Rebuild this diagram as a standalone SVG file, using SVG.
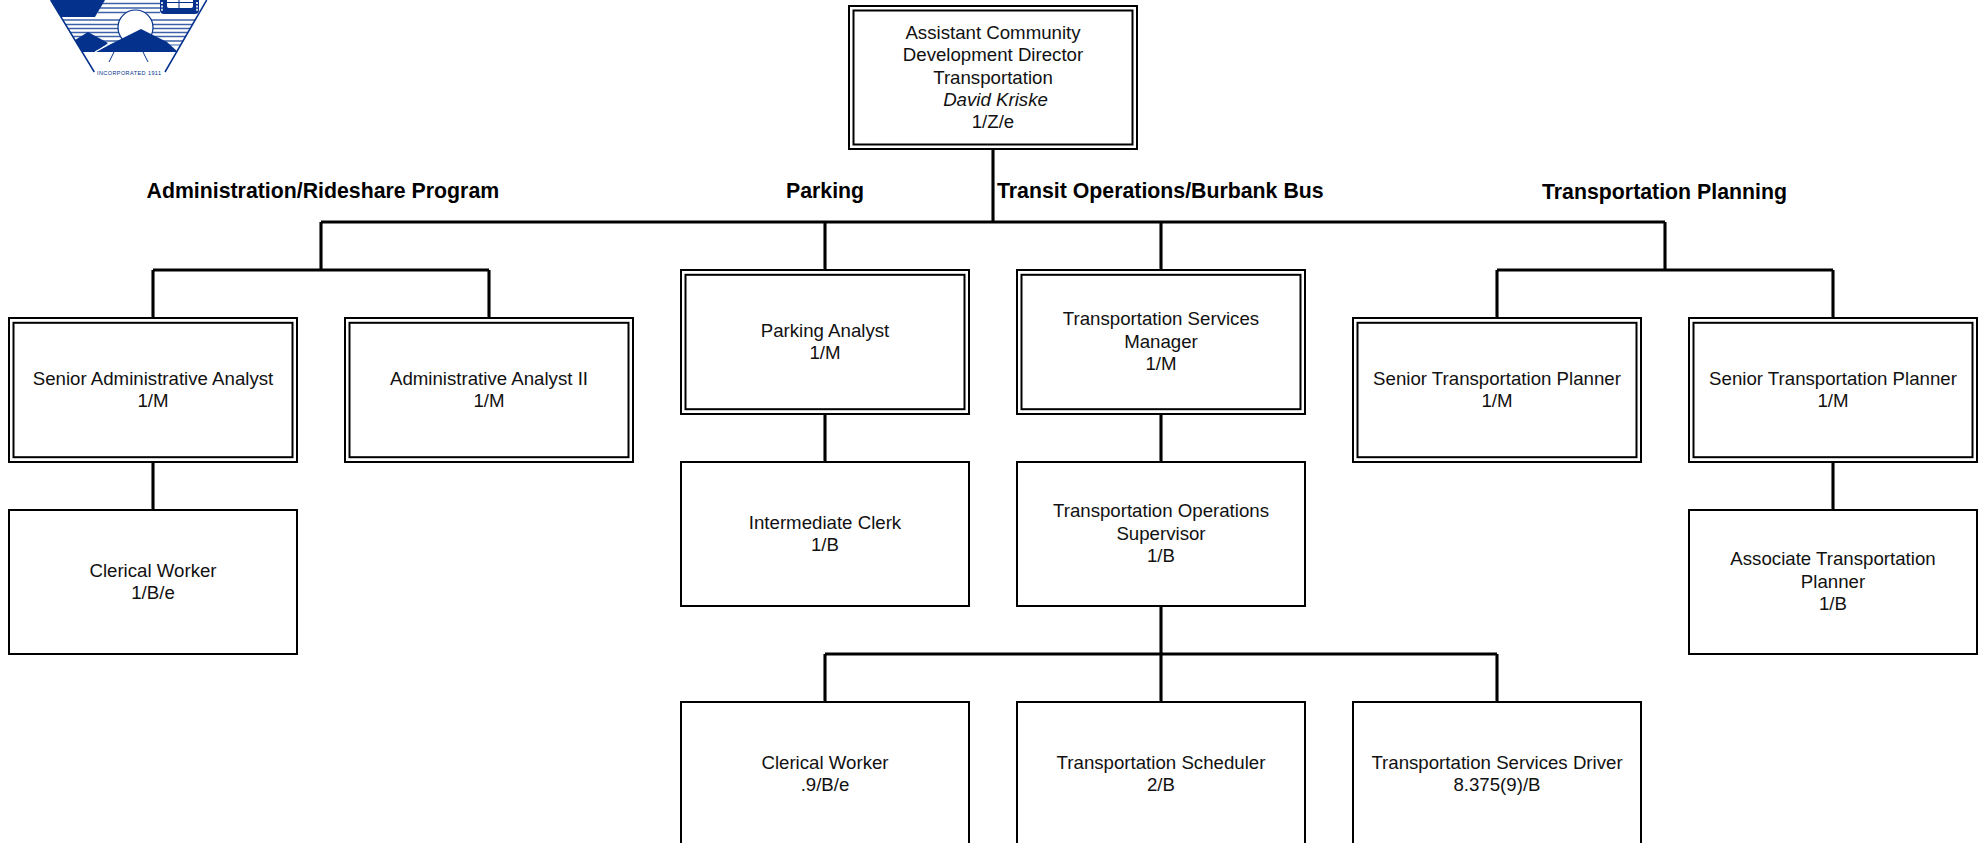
<svg xmlns="http://www.w3.org/2000/svg" width="1986" height="843" viewBox="0 0 1986 843">
<style>
text{font-family:"Liberation Sans",Arial,sans-serif;font-size:18.67px;fill:#111;text-anchor:middle}
.h{font-weight:bold;font-size:21.3px;fill:#000;text-anchor:start}
.o{fill:#fff;stroke:#000;stroke-width:2}
.i{fill:none;stroke:#000;stroke-width:2}
.c{fill:none;stroke:#000;stroke-width:3.1}
.b{fill:#03318c}
.s{stroke:#3d62a8;stroke-width:1.7;fill:none}
.e{stroke:#03318c;stroke-width:1.5;fill:none}
</style>
<defs><clipPath id="shield"><path d="M50.700 0H206.700L165 72H94.300Z"/></clipPath></defs>
<rect width="1986" height="843" fill="#fff"/>
<g id="logo">
<g clip-path="url(#shield)">
<path class="s" d="M100 3.500H160M100 8H160M98 12.500H160M60 20H210M60 24.500H210M60 28.500H210M60 32.500H210M60 36.500H210M60 41H210"/>
<path d="M50 0H105L95 17H60Z" class="b"/>
<path d="M72 45H180" stroke="#9db2d6" stroke-width="2"/>
</g>
<rect x="160" y="-8" width="39" height="22" rx="4" class="b"/>
<rect x="167" y="-4" width="26" height="12" rx="2" fill="#fff"/>
<path d="M179 0V8M167 2.500H193" stroke="#03318c" stroke-width="1" fill="none"/>
<path d="M162 2V11M197 2V11" stroke="#fff" stroke-width="1.6" stroke-dasharray="2 1.4" fill="none"/>
<circle cx="135.500" cy="27.500" r="17.500" fill="#fff" stroke="#03318c" stroke-width="1.2"/>
<path class="b" d="M75 40L88 32L108 43L96 52H82Z"/>
<path class="b" d="M95 52L141 29L167 42L178 52Z"/>
<path d="M95 52L111 43" stroke="#fff" stroke-width="1.4"/>
<path class="e" d="M50.700 0L94.300 72M206.700 0L165 72"/>
<path d="M114 52L109 62M143 52L148 62" stroke="#03318c" stroke-width="1" fill="none"/>
<text x="129" y="74.700" textLength="64" lengthAdjust="spacing" style="font-size:5.5px;fill:#03318c">INCORPORATED 1911</text>
</g>
<g id="connectors">
<path class="c" d="M993 149V222M321 222H1665M321 222V270M825 222V270M1161 222V270M1665 222V270"/>
<path class="c" d="M153 270H489M153 270V318M489 270V318M153 462V510"/>
<path class="c" d="M825 414V462M1161 414V462M1161 606V702M825 654H1497M825 654V702M1497 654V702"/>
<path class="c" d="M1497 270H1833M1497 270V318M1833 270V318M1833 462V510"/>
</g>
<g id="headers">
<text class="h" x="146.500" y="198.300">Administration/Rideshare Program</text>
<text class="h" x="786" y="198.300">Parking</text>
<text class="h" x="997" y="198.300">Transit Operations/Burbank Bus</text>
<text class="h" x="1542" y="199.300">Transportation Planning</text>
</g>
<g id="n-director">
<rect class="o" x="849" y="6" width="288" height="143"/><rect class="i" x="853.500" y="10.500" width="279" height="134"/>
<text x="993" y="39">Assistant Community</text><text x="993" y="61">Development Director</text><text x="993" y="84">Transportation</text><text x="995.500" y="106" font-style="italic">David Kriske</text><text x="993" y="128">1/Z/e</text>
</g>
<g id="n-senior-admin">
<rect class="o" x="9" y="318" width="288" height="144"/><rect class="i" x="13.500" y="322.800" width="279" height="134.400"/>
<text x="153" y="385">Senior Administrative Analyst</text><text x="153" y="407">1/M</text>
</g>
<g id="n-admin-analyst">
<rect class="o" x="345" y="318" width="288" height="144"/><rect class="i" x="349.500" y="322.800" width="279" height="134.400"/>
<text x="489" y="385">Administrative Analyst II</text><text x="489" y="407">1/M</text>
</g>
<g id="n-clerical-1">
<rect class="o" x="9" y="510" width="288" height="144"/>
<text x="153" y="577">Clerical Worker</text><text x="153" y="599">1/B/e</text>
</g>
<g id="n-parking-analyst">
<rect class="o" x="681" y="270" width="288" height="144"/><rect class="i" x="685.500" y="274.800" width="279" height="134.400"/>
<text x="825" y="337">Parking Analyst</text><text x="825" y="359">1/M</text>
</g>
<g id="n-intermediate-clerk">
<rect class="o" x="681" y="462" width="288" height="144"/>
<text x="825" y="529">Intermediate Clerk</text><text x="825" y="551">1/B</text>
</g>
<g id="n-services-manager">
<rect class="o" x="1017" y="270" width="288" height="144"/><rect class="i" x="1021.500" y="274.800" width="279" height="134.400"/>
<text x="1161" y="325">Transportation Services</text><text x="1161" y="348">Manager</text><text x="1161" y="370">1/M</text>
</g>
<g id="n-ops-supervisor">
<rect class="o" x="1017" y="462" width="288" height="144"/>
<text x="1161" y="517">Transportation Operations</text><text x="1161" y="540">Supervisor</text><text x="1161" y="562">1/B</text>
</g>
<g id="n-clerical-2">
<rect class="o" x="681" y="702" width="288" height="144"/>
<text x="825" y="769">Clerical Worker</text><text x="825" y="791">.9/B/e</text>
</g>
<g id="n-scheduler">
<rect class="o" x="1017" y="702" width="288" height="144"/>
<text x="1161" y="769">Transportation Scheduler</text><text x="1161" y="791">2/B</text>
</g>
<g id="n-driver">
<rect class="o" x="1353" y="702" width="288" height="144"/>
<text x="1497" y="769">Transportation Services Driver</text><text x="1497" y="791">8.375(9)/B</text>
</g>
<g id="n-senior-planner-1">
<rect class="o" x="1353" y="318" width="288" height="144"/><rect class="i" x="1357.500" y="322.800" width="279" height="134.400"/>
<text x="1497" y="385">Senior Transportation Planner</text><text x="1497" y="407">1/M</text>
</g>
<g id="n-senior-planner-2">
<rect class="o" x="1689" y="318" width="288" height="144"/><rect class="i" x="1693.500" y="322.800" width="279" height="134.400"/>
<text x="1833" y="385">Senior Transportation Planner</text><text x="1833" y="407">1/M</text>
</g>
<g id="n-associate-planner">
<rect class="o" x="1689" y="510" width="288" height="144"/>
<text x="1833" y="565">Associate Transportation</text><text x="1833" y="588">Planner</text><text x="1833" y="610">1/B</text>
</g>
</svg>
